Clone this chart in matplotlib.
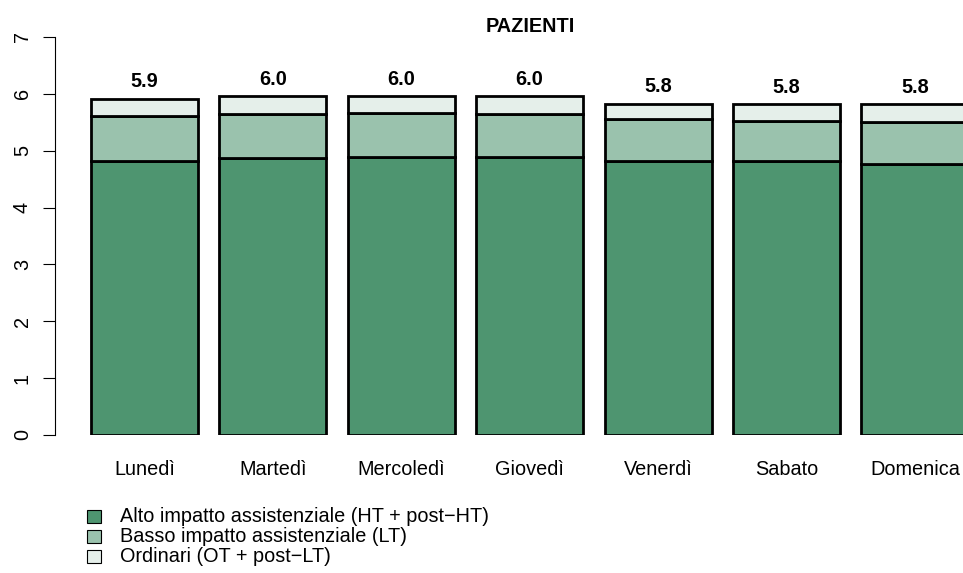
import matplotlib.pyplot as plt
from matplotlib.patches import Rectangle

plt.rcParams['font.family'] = ['Liberation Sans', 'DejaVu Sans']

giorni = ["Lunedì", "Martedì", "Mercoledì", "Giovedì", "Venerdì", "Sabato", "Domenica"]
alto = [4.82, 4.87, 4.89, 4.89, 4.82, 4.82, 4.76]
basso = [0.79, 0.77, 0.77, 0.75, 0.73, 0.70, 0.74]
ordinari = [0.30, 0.32, 0.30, 0.32, 0.28, 0.30, 0.32]
totali_label = ["5.9", "6.0", "6.0", "6.0", "5.8", "5.8", "5.8"]

serie_nomi = ["Alto impatto assistenziale (HT + post\u2212HT)",
              "Basso impatto assistenziale (LT)",
              "Ordinari (OT + post\u2212LT)"]
colori = ["#4e9570", "#9ac2ad", "#e5efea"]

fs = 14.3

fig = plt.figure(figsize=(9.63, 5.73), dpi=100)
ax = fig.add_axes([55 / 963, 1 - 435 / 573, 1 - 55 / 963, 398 / 573])

x = [0.7 + 1.2 * i for i in range(len(giorni))]
bottom = [0] * len(giorni)
for vals, col in zip([alto, basso, ordinari], colori):
    ax.bar(x, vals, width=1.0, bottom=bottom, color=col, edgecolor="black",
           linewidth=2.0)
    bottom = [b + v for b, v in zip(bottom, vals)]

for xi, tot, lab in zip(x, bottom, totali_label):
    ax.text(xi, tot + 0.3, lab, ha="center", va="center", fontsize=fs,
            fontweight="bold")

ax.set_xlim(-0.136, 8.35)
ax.set_ylim(0, 7)
for s in ["top", "right", "bottom"]:
    ax.spines[s].set_visible(False)
ax.set_yticks(range(8))
ax.set_yticklabels([str(i) for i in range(8)], rotation=90, va="center", fontsize=fs)
ax.tick_params(axis="y", length=8.6, pad=8)
ax.set_xticks(x)
ax.set_xticklabels(giorni, fontsize=fs)
ax.tick_params(axis="x", length=0, pad=18)

fig.text(530 / 963, 1 - 27 / 573, "PAZIENTI", ha="center", va="center",
         fontsize=fs, fontweight="bold")

for i, (nome, col) in enumerate(zip(serie_nomi, colori)):
    yy = 516 + 20 * i
    fig.patches.append(Rectangle((87 / 963, 1 - (yy + 6.5) / 573), 14 / 963, 13 / 573,
                                 transform=fig.transFigure, facecolor=col,
                                 edgecolor="black", linewidth=0.8))
    fig.text(120 / 963, 1 - yy / 573, nome, ha="left", va="center", fontsize=fs)

fig.savefig("out.png", dpi=100)
